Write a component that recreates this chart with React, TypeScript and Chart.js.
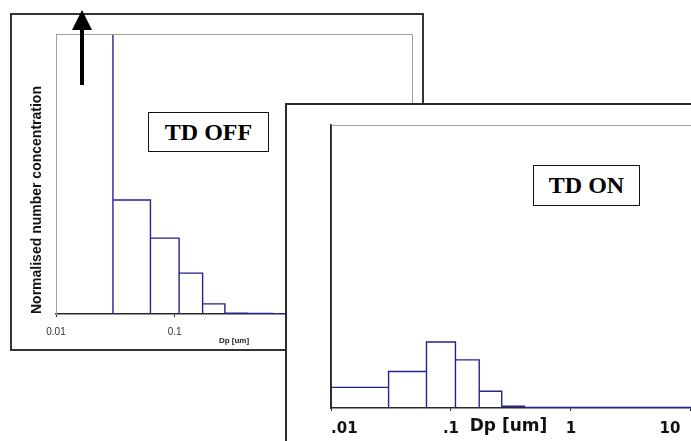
import React, { useEffect, useRef } from 'react';
import { Chart, registerables } from 'chart.js';

Chart.register(...registerables);

// Bin edges (Dp, um) shared by both size distributions
const binEdges = [0.01, 0.0302, 0.0625, 0.109, 0.172, 0.265, 0.41, 0.667, 1.03, 1.6, 2.5, 4.0, 6.5, 10, 16];
// Normalised number concentration per bin (first TD OFF bin is off-scale)
const tdOffValues = [3.0, 0.407, 0.271, 0.146, 0.036, 0.003, 0.002, 0.001, 0.001, 0.001, 0.001, 0.001, 0.001, 0.001];
const tdOnValues = [0.073, 0.129, 0.233, 0.17, 0.059, 0.006, 0.002, 0.002, 0.002, 0.002, 0.002, 0.002, 0.002, 0.002];
const xTicks = [0.01, 0.1, 1, 10];
const offTickLabels = ['0.01', '0.1', '1', '10'];
const onTickLabels = ['.01', '.1', '1', '10'];
const yTitle = 'Normalised number concentration';
const xTitle = 'Dp [um]';

const NAVY = '#23238f';
const GRAY = '#a0a0a0';
const DARK = '#2a2a2a';

function outline(edges: number[], values: number[]) {
  const pts: { x: number; y: number }[] = [];
  values.forEach((v, i) => {
    pts.push({ x: edges[i], y: 0 }, { x: edges[i], y: v }, { x: edges[i + 1], y: v }, { x: edges[i + 1], y: 0 });
  });
  return pts;
}

const sans = '"Liberation Sans", Arial, sans-serif';
const dejavu = '"DejaVu Sans", Verdana, sans-serif';

export default function App() {
  const ref1 = useRef<HTMLCanvasElement>(null);
  const ref2 = useRef<HTMLCanvasElement>(null);

  useEffect(() => {
    const framePlugin1 = {
      id: 'frame1',
      afterDatasetsDraw(chart: any) {
        const { ctx, chartArea: a } = chart;
        ctx.save();
        ctx.strokeStyle = GRAY;
        ctx.lineWidth = 1;
        ctx.beginPath();
        ctx.moveTo(a.left + 0.5, a.bottom);
        ctx.lineTo(a.left + 0.5, a.top + 0.5);
        ctx.lineTo(a.right + 0.5, a.top + 0.5);
        ctx.lineTo(a.right + 0.5, a.bottom);
        ctx.stroke();
        ctx.restore();
      },
      afterDraw(chart: any) {
        const { ctx, chartArea: a } = chart;
        const xs = chart.scales.x;
        const cx = Math.round(xs.getPixelForValue(Math.sqrt(binEdges[0] * binEdges[1]))) - 2;
        ctx.save();
        ctx.fillStyle = '#000';
        ctx.fillRect(cx - 2, a.top - 6, 4, 57);
        ctx.beginPath();
        ctx.moveTo(cx, a.top - 24);
        ctx.lineTo(cx - 10, a.top - 4);
        ctx.lineTo(cx + 10, a.top - 4);
        ctx.closePath();
        ctx.fill();
        ctx.restore();
      },
    };

    const c1 = new Chart(ref1.current!, {
      type: 'line',
      data: {
        datasets: [
          {
            data: outline(binEdges, tdOffValues),
            borderColor: NAVY,
            borderWidth: 1.4,
            pointRadius: 0,
            fill: false,
            tension: 0,
          },
        ],
      },
      options: {
        animation: false,
        responsive: false,
        events: [],
        layout: { padding: { left: 0, top: 34, right: 18, bottom: 10 } },
        plugins: { legend: { display: false }, tooltip: { enabled: false } },
        scales: {
          x: {
            type: 'logarithmic',
            min: 0.01,
            max: 10,
            afterBuildTicks: (s: any) => {
              s.ticks = xTicks.map((v) => ({ value: v }));
            },
            afterFit: (s: any) => {
              s.height = 36;
            },
            ticks: {
              autoSkip: false,
              maxRotation: 0,
              padding: 9,
              color: '#333',
              font: { family: sans, size: 10 },
              callback: (v: any) => offTickLabels[xTicks.indexOf(Number(v))],
            },
            grid: { display: true, drawOnChartArea: false, drawTicks: true, tickLength: 3, color: DARK },
            border: { display: true, color: DARK, width: 1.5 },
            title: {
              display: true,
              text: xTitle,
              color: '#222',
              font: { family: sans, size: 8, weight: 'bold' },
              padding: { top: 0, bottom: 4 },
            },
          },
          y: {
            min: 0,
            max: 1,
            afterFit: (s: any) => {
              s.width = 56;
            },
            ticks: { display: false },
            grid: { display: false },
            border: { display: true, color: GRAY, width: 1 },
            title: {
              display: true,
              text: yTitle,
              align: 'start',
              color: '#111',
              font: { family: sans, size: 14, weight: 'bold' },
              padding: { top: 28.6, bottom: 0 },
            },
          },
        },
      } as any,
      plugins: [framePlugin1],
    });

    const framePlugin2 = {
      id: 'frame2',
      afterDatasetsDraw(chart: any) {
        const { ctx, chartArea: a } = chart;
        ctx.save();
        ctx.strokeStyle = GRAY;
        ctx.lineWidth = 1;
        ctx.beginPath();
        ctx.moveTo(a.left, a.top + 0.5);
        ctx.lineTo(a.right + 0.5, a.top + 0.5);
        ctx.lineTo(a.right + 0.5, a.bottom);
        ctx.stroke();
        ctx.strokeStyle = DARK;
        ctx.lineWidth = 1.5;
        ctx.beginPath();
        ctx.moveTo(a.left, a.top);
        ctx.lineTo(a.left, a.bottom);
        ctx.stroke();
        ctx.restore();
      },
      afterDraw(chart: any) {
        const { ctx, chartArea: a } = chart;
        ctx.save();
        ctx.fillStyle = '#111';
        ctx.font = 'bold 17px ' + dejavu;
        ctx.textAlign = 'center';
        ctx.textBaseline = 'middle';
        ctx.fillText(xTitle, a.left + 177.5, a.bottom + 19);
        ctx.restore();
      },
    };

    const c2 = new Chart(ref2.current!, {
      type: 'line',
      data: {
        datasets: [
          {
            data: outline(binEdges, tdOnValues),
            borderColor: NAVY,
            borderWidth: 1.4,
            pointRadius: 0,
            fill: false,
            tension: 0,
          },
        ],
      },
      options: {
        animation: false,
        responsive: false,
        events: [],
        layout: { padding: { left: 0, top: 20, right: 20, bottom: 17 } },
        plugins: { legend: { display: false }, tooltip: { enabled: false } },
        scales: {
          x: {
            type: 'logarithmic',
            min: 0.01,
            max: 20,
            afterBuildTicks: (s: any) => {
              s.ticks = xTicks.map((v) => ({ value: v }));
            },
            afterFit: (s: any) => {
              s.height = 40;
            },
            ticks: {
              autoSkip: false,
              maxRotation: 0,
              align: 'inner',
              padding: 9,
              color: '#111',
              font: { family: dejavu, size: 15, weight: 'bold' },
              callback: (v: any, i: number, arr: any[]) => {
                const lbl = onTickLabels[xTicks.indexOf(Number(v))];
                return i === arr.length - 1 ? lbl + '  ' : lbl;
              },
            },
            grid: { display: true, drawOnChartArea: false, drawTicks: true, tickLength: 3, color: DARK },
            border: { display: true, color: DARK, width: 1.5 },
          },
          y: {
            min: 0,
            max: 1,
            afterFit: (s: any) => {
              s.width = 44;
            },
            ticks: { display: false },
            grid: { display: false },
            border: { display: true, color: DARK, width: 1.5 },
          },
        },
      } as any,
      plugins: [framePlugin2],
    });

    return () => {
      c1.destroy();
      c2.destroy();
    };
  }, []);

  const box: React.CSSProperties = {
    position: 'absolute',
    boxSizing: 'border-box',
    border: '1px solid #111',
    background: '#fff',
    display: 'flex',
    alignItems: 'center',
    justifyContent: 'center',
    fontFamily: '"Liberation Serif", "Times New Roman", serif',
    fontWeight: 'bold',
    fontSize: 24,
    color: '#000',
  };

  return (
    <div style={{ position: 'fixed', left: 0, top: 0, width: 691, height: 441, overflow: 'hidden', background: '#fff' }}>
      <div
        style={{
          position: 'absolute',
          left: 10,
          top: 13,
          width: 414,
          height: 338,
          boxSizing: 'border-box',
          border: '2px solid #333',
        }}
      />
      <canvas ref={ref1} width={430} height={360} style={{ position: 'absolute', left: 0, top: 0, width: 430, height: 360 }} />
      <div style={{ ...box, left: 148, top: 112, width: 121, height: 40 }}>TD OFF</div>
      <div
        style={{
          position: 'absolute',
          left: 285,
          top: 103,
          width: 464,
          height: 364,
          boxSizing: 'border-box',
          border: '2px solid #2a2a2a',
          background: '#fff',
        }}
      >
        <canvas ref={ref2} width={460} height={360} style={{ display: 'block', width: 460, height: 360 }} />
      </div>
      <div style={{ ...box, left: 533, top: 165, width: 107, height: 41 }}>TD ON</div>
    </div>
  );
}
